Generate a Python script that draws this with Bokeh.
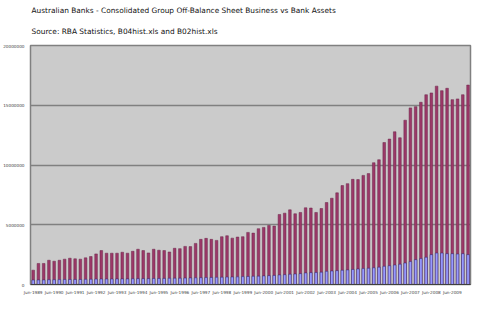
from bokeh.plotting import figure
from bokeh.models import ColumnDataSource, Range1d, FixedTicker, NumeralTickFormatter, Title
from bokeh.embed import file_html
from bokeh.resources import INLINE

# Quarterly categories, Jun-1989 .. Mar-2010
months = ["Jun", "Sep", "Dec", "Mar"]
quarters = []
year = 1989
for i in range(84):
    m = months[i % 4]
    if m == "Mar":
        year += 1
    quarters.append(f"{m}-{year}")

off_balance = [1.20, 1.76, 1.76, 2.03, 1.95, 2.03, 2.12, 2.20, 2.15, 2.12,
               2.23, 2.34, 2.56, 2.84, 2.62, 2.62, 2.62, 2.70, 2.62, 2.78,
               2.95, 2.84, 2.64, 2.95, 2.87, 2.84, 2.72, 3.03, 3.00, 3.19,
               3.17, 3.44, 3.78, 3.86, 3.78, 3.69, 4.00, 4.08, 3.88, 3.97,
               4.00, 4.36, 4.30, 4.67, 4.78, 4.94, 4.89, 5.86, 5.97, 6.25,
               5.92, 6.03, 6.42, 6.40, 6.03, 6.36, 6.86, 7.22, 7.67, 8.28,
               8.44, 8.80, 8.78, 9.13, 9.28, 10.19, 10.44, 11.88, 12.17, 12.78,
               12.28, 13.75, 14.78, 14.88, 15.25, 15.88, 16.03, 16.60, 16.22, 16.42,
               15.47, 15.53, 15.88, 16.69]
bank_assets = [0.37, 0.38, 0.38, 0.40, 0.40, 0.41, 0.42, 0.42, 0.42, 0.42,
               0.43, 0.44, 0.45, 0.46, 0.46, 0.46, 0.47, 0.47, 0.47, 0.48,
               0.49, 0.49, 0.49, 0.50, 0.50, 0.51, 0.52, 0.53, 0.53, 0.54,
               0.55, 0.56, 0.57, 0.58, 0.59, 0.60, 0.61, 0.62, 0.63, 0.64,
               0.66, 0.67, 0.69, 0.70, 0.72, 0.74, 0.76, 0.80, 0.82, 0.86,
               0.88, 0.91, 0.97, 0.99, 1.00, 1.03, 1.10, 1.13, 1.16, 1.19,
               1.22, 1.26, 1.30, 1.33, 1.36, 1.40, 1.45, 1.52, 1.57, 1.63,
               1.70, 1.80, 1.92, 2.08, 2.17, 2.28, 2.50, 2.63, 2.63, 2.58,
               2.58, 2.55, 2.58, 2.50]

title_text = "Australian Banks - Consolidated Group Off-Balance Sheet Business vs Bank Assets"
source_text = "Source: RBA Statistics, B04hist.xls and B02hist.xls"

src = ColumnDataSource(dict(
    x=list(range(len(quarters))),
    q=quarters,
    off=[v * 1e6 for v in off_balance],
    assets=[v * 1e6 for v in bank_assets],
))

p = figure(width=489, height=326, output_backend="svg", toolbar_location=None,
           x_range=Range1d(-0.515, 83.47), y_range=Range1d(0, 20e6),
           min_border_left=0, min_border_right=19, min_border_top=45, min_border_bottom=42)

p.background_fill_color = "#cbcbcb"
p.border_fill_color = "white"
p.outline_line_color = "#808080"
p.outline_line_width = 1.5

p.vbar(x="x", top="off", width=0.5, source=src, fill_color="#9c3868",
       line_color="#6a2448", line_width=0.5)
p.vbar(x="x", top="assets", width=0.5, source=src, fill_color="#9999ff",
       line_color="#2a2a6a", line_width=0.5)

p.xgrid.visible = False
p.ygrid.grid_line_color = "#808080"
p.ygrid.grid_line_width = 1.5
p.ygrid.ticker = FixedTicker(ticks=[0, 5e6, 10e6, 15e6, 20e6])

p.yaxis.ticker = FixedTicker(ticks=[0, 5e6, 10e6, 15e6, 20e6])
p.yaxis.formatter = NumeralTickFormatter(format="0")
p.yaxis.major_label_text_font_size = "4.2px"
p.yaxis.major_label_text_font = "DejaVu Sans"
p.yaxis.major_tick_in = 0
p.yaxis.major_tick_out = 0
p.yaxis.minor_tick_in = 0
p.yaxis.minor_tick_out = 0
p.yaxis.axis_line_color = "#808080"
p.yaxis.major_label_standoff = 6

tick_idx = list(range(0, len(quarters), 4))
p.xaxis.ticker = FixedTicker(ticks=tick_idx)
p.xaxis.major_label_overrides = {i: quarters[i] for i in tick_idx}
p.xaxis.major_label_text_font_size = "4.2px"
p.xaxis.major_label_text_font = "DejaVu Sans"
p.xaxis.major_tick_in = 0
p.xaxis.major_tick_out = 0
p.xaxis.minor_tick_in = 0
p.xaxis.minor_tick_out = 0
p.xaxis.axis_line_color = "#404040"
p.xaxis.major_label_standoff = 5

# titles: first added sits nearest the frame
p.add_layout(Title(text=source_text, text_font="DejaVu Sans", text_font_size="7.4px",
                   text_font_style="normal", text_color="#111111", offset=1, standoff=19), "above")
p.add_layout(Title(text=title_text, text_font="DejaVu Sans", text_font_size="7.4px",
                   text_font_style="normal", text_color="#111111", offset=1, standoff=1), "above")

open("out.html", "w").write(file_html(p, INLINE))
